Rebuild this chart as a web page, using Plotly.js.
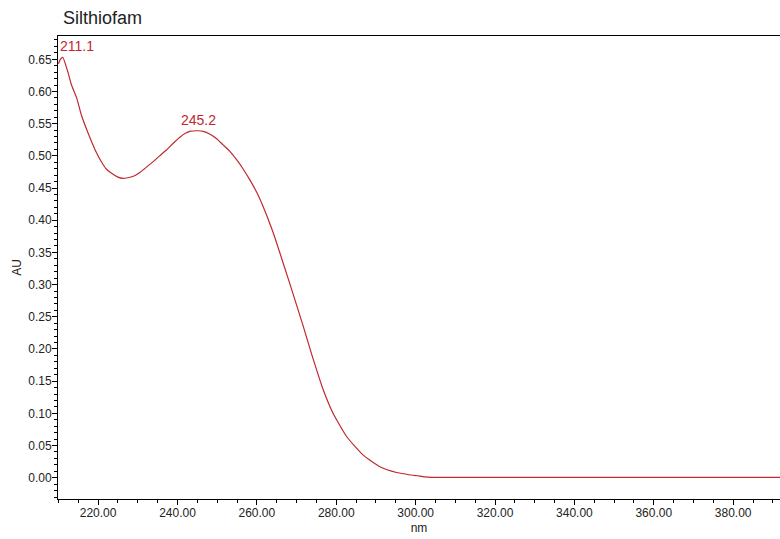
<!DOCTYPE html>
<html>
<head>
<meta charset="utf-8">
<script src="https://cdn.plot.ly/plotly-3.0.1.min.js"></script>
<style>html,body{margin:0;padding:0;background:#fff;}#chart{width:780px;height:539px;}</style>
</head>
<body>
<div id="chart"></div>
<script>
// Spectrum readings (wavelength in nm, absorbance in AU)
const wavelength = [210.0, 210.5, 211.1, 212.4, 213.3, 214.6, 215.8, 217.5, 219.2, 220.9, 222.0, 223.4, 225.0, 226.3, 227.5, 229.2, 230.5, 231.7, 233.9, 235.5, 237.2, 239.0, 240.6, 242.0, 243.1, 245.2, 246.5, 248.1, 249.8, 251.5, 253.2, 254.9, 256.5, 258.2, 260.0, 261.6, 264.1, 266.6, 269.1, 271.6, 273.8, 276.7, 279.2, 282.6, 286.8, 291.0, 295.2, 298.0, 300.5, 303.0, 310.0, 320.0, 330.0, 340.0, 350.0, 360.0, 370.0, 380.0, 392.0];
const absorbance = [0.643, 0.650, 0.653, 0.630, 0.610, 0.590, 0.563, 0.535, 0.510, 0.490, 0.480, 0.473, 0.467, 0.465, 0.466, 0.469, 0.474, 0.480, 0.491, 0.500, 0.509, 0.520, 0.529, 0.535, 0.538, 0.539, 0.538, 0.534, 0.527, 0.517, 0.507, 0.494, 0.480, 0.463, 0.443, 0.421, 0.381, 0.334, 0.286, 0.237, 0.192, 0.137, 0.100, 0.064, 0.035, 0.017, 0.008, 0.005, 0.003, 0.001, 0.0005, 0.0005, 0.0005, 0.0005, 0.0005, 0.0005, 0.0005, 0.0005, 0.0005];
const peakWavelengths = [211.1, 245.2];
const peakAbsorbance = [0.653, 0.539];
const peakLabels = ['211.1', '245.2'];
const peakShift = [14, 0];

const red = 'rgb(192,40,48)';
const font = 'Arial, "Liberation Sans", sans-serif';

const trace = {
  x: wavelength, y: absorbance, type: 'scatter', mode: 'lines',
  line: {color: red, width: 1.2, shape: 'spline', smoothing: 0.5},
  hoverinfo: 'x+y', showlegend: false
};

const annotations = peakWavelengths.map((w, i) => ({
  x: w, y: peakAbsorbance[i], xref: 'x', yref: 'y', text: peakLabels[i],
  showarrow: false, xanchor: 'center', yanchor: 'bottom', xshift: peakShift[i], yshift: 1,
  font: {family: font, size: 14, color: red}
}));

const layout = {
  width: 780, height: 539,
  margin: {l: 58, r: 0, t: 36, b: 40, pad: 0},
  paper_bgcolor: '#fff', plot_bgcolor: '#fff',
  title: {text: 'Silthiofam', xref: 'container', x: 63/780, xanchor: 'left', yref: 'container', y: 1 - 18/539, yanchor: 'middle',
    font: {family: font, size: 18, color: '#222'}},
  xaxis: {
    range: [209.9, 391.8], tick0: 0, dtick: 20, tickformat: '.2f',
    ticks: 'outside', ticklen: 5, tickcolor: '#000', tickwidth: 1,
    showline: true, linecolor: '#000', linewidth: 1, mirror: true,
    showgrid: false, zeroline: false,
    minor: {dtick: 5, ticks: 'outside', ticklen: 3, tickcolor: '#000', showgrid: false},
    tickfont: {family: font, size: 12, color: '#222'},
    ticklabelstandoff: -2,
    title: {text: 'nm', font: {family: font, size: 12, color: '#222'}, standoff: 4}
  },
  yaxis: {
    range: [-0.0331, 0.6862], tick0: 0, dtick: 0.05, tickformat: '.2f',
    ticks: 'outside', ticklen: 5, tickcolor: '#000', tickwidth: 1,
    showline: true, linecolor: '#000', linewidth: 1,
    showgrid: false, zeroline: false,
    minor: {dtick: 0.01, ticks: 'outside', ticklen: 3, tickcolor: '#000', showgrid: false},
    tickfont: {family: font, size: 12, color: '#222'},
    ticklabelstandoff: -2,
    title: {text: 'AU', font: {family: font, size: 12, color: '#222'}, standoff: 4}
  },
  annotations: annotations
};

Plotly.newPlot('chart', [trace], layout, {displayModeBar: false, staticPlot: true});
</script>
</body>
</html>
